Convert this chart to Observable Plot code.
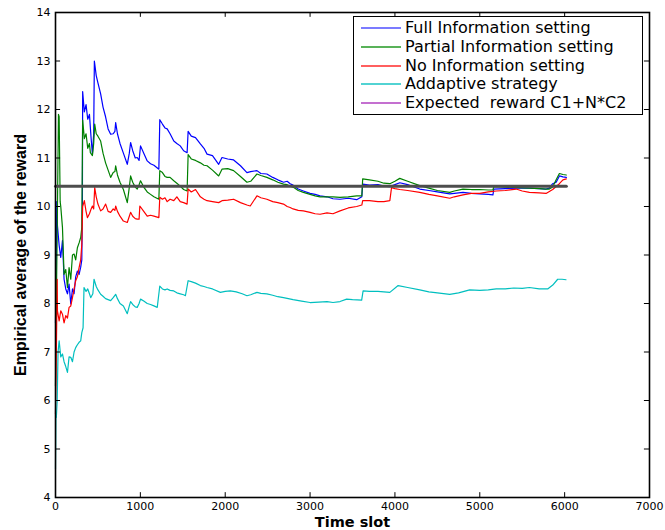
<!DOCTYPE html>
<html>
<head>
<meta charset="utf-8">
<script src="https://cdn.jsdelivr.net/npm/d3@7"></script>
<script src="https://cdn.jsdelivr.net/npm/@observablehq/plot@0.6"></script>
<style>
  html, body { margin: 0; padding: 0; background: #fff; }
  #wrap { position: relative; width: 665px; height: 530px; }
  #legend { position: absolute; box-sizing: border-box; background: #fff; border: 1.5px solid #000;
            font-family: "DejaVu Sans", sans-serif; font-size: 16px; color: #000; }
  .row { position: absolute; left: 0; right: 0; height: 19px; }
  .swatch { position: absolute; left: 6px; top: 0; }
  .lbl { position: absolute; left: 51px; top: 0; line-height: 19px; white-space: pre; }
</style>
</head>
<body>
<div id="wrap"></div>
<script>
// ---- tick labels ----
const xTicks = [0, 1000, 2000, 3000, 4000, 5000, 6000, 7000];
const yTicks = [4, 5, 6, 7, 8, 9, 10, 11, 12, 13, 14];

// ---- series names / colours ----
const seriesNames = ["Full Information setting", "Partial Information setting", "No Information setting", "Addaptive strategy", "Expected  reward C1+N*C2"];
const seriesColors = ["#0000ff", "#008000", "#ff0000", "#00bfbf", "#bf00bf"];
const legendColors = ["#4f4fff", "#229922", "#ff2a2a", "#18c4c4", "#b040c0"];

// ---- Full Information setting ----
const fullX = [0, 10, 15, 23, 43, 62, 82, 101, 121, 141, 160, 180, 200, 219, 238, 258, 278, 297, 310, 317, 320, 340, 360, 380, 400, 420, 435, 450, 458, 480, 500, 532, 560, 590, 620, 650, 680, 700, 709, 730, 760, 800, 846, 870, 885, 910, 940, 963, 985, 1002, 1040, 1081, 1120, 1160, 1218, 1229, 1260, 1290, 1316, 1350, 1394, 1430, 1470, 1510, 1551, 1563, 1600, 1650, 1707, 1750, 1786, 1850, 1923, 1962, 2030, 2099, 2180, 2256, 2300, 2374, 2420, 2491, 2560, 2620, 2687, 2730, 2765, 2800, 2860, 2921, 3000, 3060, 3118, 3200, 3270, 3353, 3450, 3549, 3610, 3620, 3700, 3800, 3870, 3940, 4000, 4057, 4150, 4293, 4400, 4500, 4646, 4700, 4802, 4900, 5000, 5100, 5155, 5165, 5300, 5450, 5585, 5700, 5781, 5820, 5859, 5900, 5938, 5980, 6020];
const fullY = [7.6, 9.0, 10.1, 9.6, 9.2, 8.95, 9.3, 8.5, 8.3, 8.2, 8.4, 7.99, 8.3, 8.2, 8.55, 8.67, 8.6, 8.75, 8.9, 10.05, 12.37, 11.95, 12.1, 11.8, 11.9, 11.4, 11.08, 11.5, 13.0, 12.7, 12.55, 12.32, 12.05, 11.85, 11.6, 11.49, 11.5, 11.55, 11.73, 11.5, 11.3, 11.1, 10.87, 11.1, 11.32, 11.15, 11.0, 11.01, 10.95, 11.25, 11.1, 10.94, 10.88, 10.85, 10.77, 11.79, 11.7, 11.62, 11.6, 11.5, 11.35, 11.3, 11.25, 11.15, 11.11, 11.55, 11.45, 11.42, 11.29, 11.2, 11.08, 11.05, 10.87, 11.01, 10.98, 10.96, 10.84, 10.7, 10.72, 10.74, 10.68, 10.67, 10.6, 10.55, 10.5, 10.52, 10.47, 10.44, 10.36, 10.32, 10.27, 10.25, 10.22, 10.2, 10.16, 10.15, 10.17, 10.14, 10.2, 10.46, 10.44, 10.45, 10.42, 10.41, 10.45, 10.49, 10.45, 10.36, 10.33, 10.3, 10.26, 10.27, 10.29, 10.27, 10.26, 10.25, 10.24, 10.36, 10.37, 10.38, 10.38, 10.37, 10.36, 10.38, 10.47, 10.5, 10.63, 10.61, 10.6];

// ---- Partial Information setting ----
const partX = [0, 10, 20, 35, 43, 55, 62, 82, 101, 121, 141, 160, 180, 200, 219, 238, 258, 278, 297, 310, 320, 340, 360, 380, 400, 411, 435, 450, 462, 480, 500, 532, 560, 590, 620, 650, 680, 700, 709, 730, 760, 800, 846, 870, 885, 910, 940, 963, 985, 1002, 1040, 1081, 1120, 1160, 1218, 1229, 1260, 1290, 1316, 1350, 1394, 1430, 1470, 1510, 1551, 1563, 1600, 1650, 1707, 1750, 1786, 1850, 1923, 1962, 2030, 2099, 2180, 2256, 2300, 2374, 2420, 2491, 2560, 2620, 2687, 2730, 2765, 2800, 2860, 2921, 3000, 3060, 3118, 3200, 3270, 3353, 3450, 3549, 3610, 3620, 3700, 3800, 3870, 3940, 4000, 4057, 4150, 4293, 4400, 4500, 4646, 4700, 4802, 4900, 5000, 5100, 5155, 5165, 5300, 5450, 5585, 5700, 5781, 5820, 5859, 5900, 5938, 5980, 6020];
const partY = [6.3, 8.0, 9.5, 11.9, 11.85, 10.1, 10.0, 9.57, 8.6, 8.7, 8.33, 8.74, 8.5, 9.0, 9.02, 8.9, 9.15, 9.25, 9.36, 9.57, 11.78, 11.4, 11.5, 11.2, 11.3, 11.11, 11.05, 11.3, 11.7, 11.5, 11.45, 11.35, 11.1, 10.9, 10.75, 10.6, 10.7, 10.72, 10.84, 10.65, 10.5, 10.35, 10.08, 10.4, 10.63, 10.5, 10.4, 10.36, 10.45, 10.53, 10.4, 10.3, 10.25, 10.2, 10.15, 10.74, 10.7, 10.62, 10.6, 10.6, 10.53, 10.48, 10.42, 10.35, 10.32, 11.07, 10.98, 10.95, 10.9, 10.85, 10.84, 10.75, 10.63, 10.77, 10.78, 10.74, 10.62, 10.5, 10.52, 10.67, 10.64, 10.6, 10.55, 10.5, 10.46, 10.45, 10.42, 10.4, 10.33, 10.29, 10.25, 10.22, 10.2, 10.2, 10.2, 10.19, 10.2, 10.22, 10.22, 10.57, 10.55, 10.52, 10.48, 10.47, 10.52, 10.58, 10.52, 10.43, 10.38, 10.33, 10.29, 10.32, 10.36, 10.35, 10.35, 10.34, 10.34, 10.41, 10.4, 10.39, 10.38, 10.37, 10.36, 10.36, 10.4, 10.55, 10.68, 10.66, 10.65];

// ---- No Information setting ----
const noX = [0, 10, 20, 23, 43, 62, 82, 101, 121, 141, 160, 180, 200, 219, 238, 258, 278, 297, 310, 320, 340, 360, 376, 400, 420, 435, 450, 462, 480, 500, 532, 560, 591, 620, 650, 680, 700, 709, 730, 760, 800, 846, 870, 885, 910, 940, 963, 985, 994, 1040, 1081, 1120, 1160, 1218, 1229, 1260, 1290, 1316, 1350, 1394, 1430, 1470, 1510, 1551, 1563, 1600, 1650, 1707, 1750, 1786, 1850, 1923, 1962, 2030, 2099, 2180, 2256, 2295, 2374, 2420, 2491, 2560, 2620, 2687, 2730, 2765, 2800, 2860, 2921, 3000, 3060, 3118, 3200, 3270, 3353, 3450, 3549, 3610, 3620, 3700, 3800, 3870, 3940, 3960, 4000, 4057, 4150, 4293, 4400, 4500, 4646, 4700, 4802, 4900, 5000, 5100, 5194, 5300, 5429, 5500, 5585, 5700, 5781, 5859, 5938, 5980, 6020];
const noY = [5.72, 7.0, 8.5, 7.85, 7.64, 7.85, 7.78, 7.6, 7.75, 7.7, 7.92, 7.95, 8.12, 8.3, 8.47, 8.55, 8.74, 8.9, 9.22, 10.0, 10.12, 9.9, 9.77, 9.85, 9.95, 10.01, 9.95, 10.39, 10.2, 10.05, 9.91, 9.95, 10.05, 9.9, 9.88, 9.95, 9.92, 10.01, 9.9, 9.8, 9.7, 9.67, 9.8, 9.88, 9.8, 9.75, 9.74, 9.74, 10.01, 9.9, 9.8, 9.82, 9.8, 9.77, 10.19, 10.15, 10.18, 10.1, 10.15, 10.12, 10.2, 10.1, 10.08, 10.05, 10.36, 10.3, 10.35, 10.2, 10.15, 10.12, 10.1, 10.08, 10.12, 10.13, 10.15, 10.08, 10.03, 10.01, 10.22, 10.18, 10.15, 10.1, 10.08, 10.05, 10.0, 9.98, 9.95, 9.92, 9.91, 9.88, 9.85, 9.84, 9.87, 9.85, 9.91, 9.97, 10.0, 10.03, 10.12, 10.12, 10.1, 10.1, 10.12, 10.39, 10.37, 10.35, 10.33, 10.29, 10.25, 10.22, 10.17, 10.2, 10.24, 10.27, 10.27, 10.3, 10.32, 10.33, 10.36, 10.32, 10.29, 10.28, 10.27, 10.35, 10.47, 10.55, 10.57];

// ---- Addaptive strategy ----
const adaX = [0, 5, 10, 20, 30, 43, 62, 82, 101, 121, 141, 160, 180, 200, 219, 238, 258, 278, 297, 310, 325, 336, 360, 380, 400, 415, 440, 454, 480, 500, 532, 560, 590, 620, 650, 680, 709, 730, 760, 800, 846, 870, 885, 910, 940, 963, 985, 1002, 1040, 1081, 1120, 1160, 1199, 1229, 1260, 1290, 1316, 1350, 1394, 1430, 1470, 1510, 1531, 1563, 1600, 1650, 1707, 1750, 1786, 1850, 1943, 2000, 2060, 2130, 2200, 2256, 2300, 2374, 2420, 2491, 2560, 2620, 2687, 2800, 2900, 3000, 3100, 3200, 3270, 3353, 3431, 3500, 3608, 3625, 3700, 3800, 3870, 3940, 4038, 4150, 4293, 4400, 4500, 4646, 4750, 4881, 5000, 5100, 5194, 5300, 5400, 5500, 5585, 5700, 5800, 5860, 5918, 5970, 6016];
const adaY = [4.59, 5.7, 5.65, 6.0, 7.0, 7.23, 6.9, 6.96, 6.8, 6.7, 6.58, 6.9, 6.89, 6.8, 7.0, 7.09, 7.15, 7.2, 7.23, 7.4, 7.5, 8.33, 8.25, 8.3, 8.2, 8.12, 8.2, 8.5, 8.35, 8.28, 8.19, 8.15, 8.1, 8.08, 8.06, 8.12, 8.19, 8.1, 8.0, 7.95, 7.79, 7.95, 8.04, 7.98, 7.93, 7.92, 8.0, 8.09, 8.05, 8.0, 7.98, 7.95, 7.92, 8.36, 8.3, 8.28, 8.3, 8.27, 8.26, 8.22, 8.2, 8.18, 8.16, 8.47, 8.45, 8.42, 8.37, 8.35, 8.33, 8.3, 8.23, 8.25, 8.26, 8.24, 8.2, 8.16, 8.18, 8.23, 8.21, 8.2, 8.17, 8.14, 8.12, 8.08, 8.05, 8.02, 8.03, 8.04, 8.02, 8.04, 8.09, 8.08, 8.07, 8.26, 8.25, 8.25, 8.24, 8.23, 8.37, 8.33, 8.28, 8.24, 8.22, 8.19, 8.22, 8.28, 8.27, 8.28, 8.3, 8.3, 8.32, 8.31, 8.33, 8.3, 8.3, 8.38, 8.5, 8.5, 8.49];

// ---- Expected reward C1+N*C2 ----
const expX = [0, 6020];
const expY = [10.42, 10.42];

const pts = (xs, ys) => xs.map((x, i) => ({x, y: ys[i]}));

const chart = Plot.plot({
  width: 665,
  height: 530,
  marginLeft: 55,
  marginRight: 16,
  marginTop: 12,
  marginBottom: 33,
  style: {fontFamily: "DejaVu Sans, sans-serif", fontSize: "11px", background: "#fff", color: "#000"},
  x: {domain: [0, 7000]},
  y: {domain: [4, 14]},
  marks: [
    Plot.line(pts(fullX, fullY), {x: "x", y: "y", stroke: seriesColors[0], strokeWidth: 1.2}),
    Plot.line(pts(partX, partY), {x: "x", y: "y", stroke: seriesColors[1], strokeWidth: 1.2}),
    Plot.line(pts(noX, noY), {x: "x", y: "y", stroke: seriesColors[2], strokeWidth: 1.2}),
    Plot.line(pts(adaX, adaY), {x: "x", y: "y", stroke: seriesColors[3], strokeWidth: 1.2}),
    Plot.line(pts(expX, expY), {x: "x", y: "y", stroke: "#4d4d4d", strokeWidth: 3}),
    // inward ticks on all four sides
    Plot.ruleY(yTicks, {x1: 0, x2: 60, stroke: "#000", strokeWidth: 1}),
    Plot.ruleY(yTicks, {x1: 6940, x2: 7000, stroke: "#000", strokeWidth: 1}),
    Plot.ruleX(xTicks, {y1: 4, y2: 4.1, stroke: "#000", strokeWidth: 1}),
    Plot.ruleX(xTicks, {y1: 13.9, y2: 14, stroke: "#000", strokeWidth: 1}),
    Plot.frame({stroke: "#000", strokeWidth: 1.6}),
    Plot.axisX({ticks: xTicks, tickSize: 0, tickPadding: 5, label: null, tickFormat: d => String(d)}),
    Plot.axisY({ticks: yTicks, tickSize: 0, tickPadding: 5, label: null, tickFormat: d => String(d)}),
    Plot.text(["Time slot"], {frameAnchor: "bottom", dy: 24.6, lineAnchor: "middle", textAnchor: "middle", text: d => d, fontWeight: "bold", fontSize: 14.5, fontFamily: "DejaVu Sans, sans-serif"}),
    Plot.text(["Empirical average of the reward"], {frameAnchor: "left", dx: -35, rotate: -90, lineAnchor: "middle", textAnchor: "middle", text: d => d, fontWeight: "bold", fontSize: 16, fontFamily: "Liberation Sans, Arial, sans-serif"})
  ]
});

const wrap = document.getElementById("wrap");
wrap.appendChild(chart);

// legend
const legend = document.createElement("div");
legend.id = "legend";
Object.assign(legend.style, {left: "353px", top: "16px", width: "290px", height: "99px"});
const svgNS = "http://www.w3.org/2000/svg";
seriesNames.forEach((name, i) => {
  const row = document.createElement("div");
  row.className = "row";
  row.style.top = (1 + i * 18.8) + "px";
  const sw = document.createElementNS(svgNS, "svg");
  sw.setAttribute("class", "swatch");
  sw.setAttribute("width", "44");
  sw.setAttribute("height", "19");
  const ln = document.createElementNS(svgNS, "line");
  ln.setAttribute("x1", "1"); ln.setAttribute("x2", "41");
  ln.setAttribute("y1", "10"); ln.setAttribute("y2", "10");
  ln.setAttribute("stroke", legendColors[i]);
  ln.setAttribute("stroke-width", "1.4");
  sw.appendChild(ln);
  const lb = document.createElement("div");
  lb.className = "lbl";
  lb.textContent = name;
  row.appendChild(sw);
  row.appendChild(lb);
  legend.appendChild(row);
});
wrap.appendChild(legend);
</script>
</body>
</html>
